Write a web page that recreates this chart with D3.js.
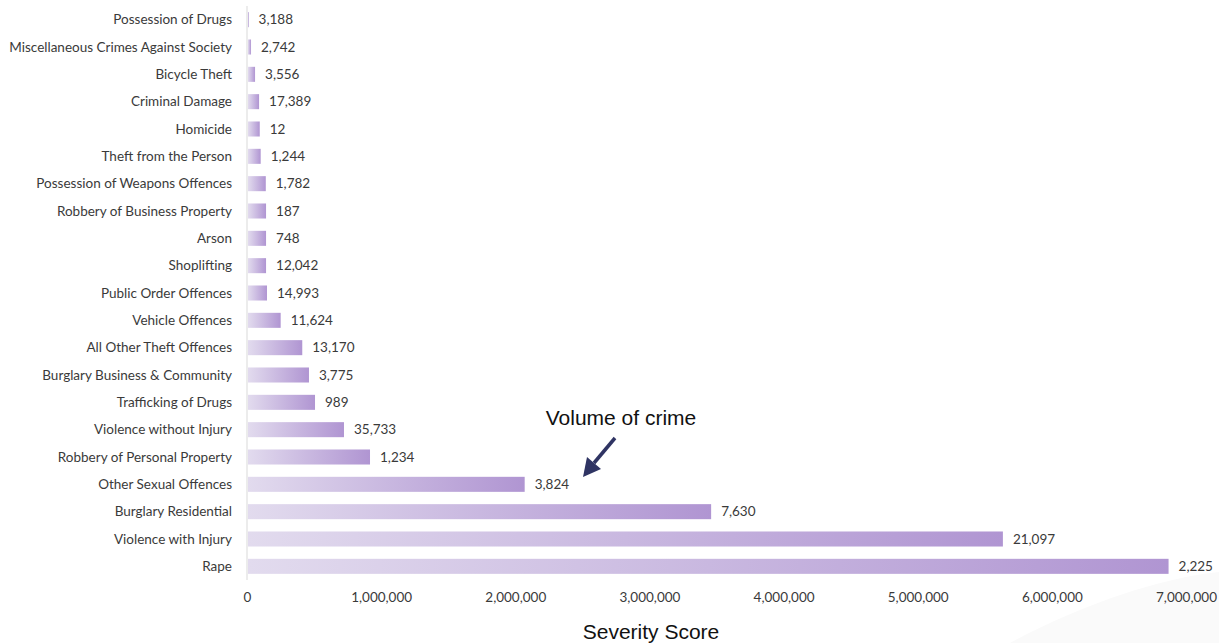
<!DOCTYPE html>
<html>
<head>
<meta charset="utf-8">
<script src="https://cdn.jsdelivr.net/npm/d3@7"></script>
<style>
  body { margin: 0; background: #fff; }
  .cat { font-family: Lato, sans-serif; font-size: 13.5px; fill: #3a3a3a; }
  .val { font-family: Lato, sans-serif; font-size: 13.5px; fill: #3a3a3a; }
  .tick text { font-family: Lato, sans-serif; font-size: 13.5px; fill: #3a3a3a; }
  .note { font-family: "Liberation Sans", Arial, sans-serif; fill: #111; }
</style>
</head>
<body>
<div class="container"></div>
<script>
var categories = [
  "Possession of Drugs", "Miscellaneous Crimes Against Society", "Bicycle Theft",
  "Criminal Damage", "Homicide", "Theft from the Person", "Possession of Weapons Offences",
  "Robbery of Business Property", "Arson", "Shoplifting", "Public Order Offences",
  "Vehicle Offences", "All Other Theft Offences", "Burglary Business & Community",
  "Trafficking of Drugs", "Violence without Injury", "Robbery of Personal Property",
  "Other Sexual Offences", "Burglary Residential", "Violence with Injury", "Rape"
];
// severity score (bar length)
var severity = [
  12000, 30000, 60000, 90000, 95000, 102000, 140000,
  142000, 142000, 142000, 149000, 251000, 412000, 462000,
  507000, 723000, 917000, 2070000, 3460000, 5635000, 6870000
];
// volume of crime (label at bar end)
var volume = [
  3188, 2742, 3556, 17389, 12, 1244, 1782,
  187, 748, 12042, 14993, 11624, 13170, 3775,
  989, 35733, 1234, 3824, 7630, 21097, 2225
];
var xTicks = [0, 1000000, 2000000, 3000000, 4000000, 5000000, 6000000, 7000000];

var width = 1219,
  height = 643;

var svg = d3.select(".container").append("svg")
  .attr("width", width)
  .attr("height", height);

var defs = svg.append("defs");

// light-to-dark gradient, stretched over each bar
var grad = defs.append("linearGradient")
  .attr("id", "barGrad")
  .attr("x1", "0").attr("x2", "1").attr("y1", "0").attr("y2", "0");
grad.append("stop").attr("offset", "0%").attr("stop-color", "#e2dbee");
grad.append("stop").attr("offset", "100%").attr("stop-color", "#b095d2");

// faint background swoosh, bottom right
svg.append("path")
  .attr("d", "M1010,643 C1080,605 1160,578 1219,572 L1219,643 Z")
  .attr("fill", "#fafafa");

var x = d3.scaleLinear()
  .domain([0, 7000000])
  .range([247, 1186]);

var y = d3.scaleBand()
  .domain(categories)
  .range([6, 580])
  .paddingInner(0.45)
  .paddingOuter(0.225);

// vertical axis line
svg.append("line")
  .attr("x1", x(0)).attr("x2", x(0))
  .attr("y1", 6).attr("y2", 580)
  .attr("stroke", "#d9d9d9")
  .attr("stroke-width", 1);

// bars
svg.append("g").selectAll("rect")
  .data(categories)
  .join("rect")
  .attr("x", x(0) + 1)
  .attr("y", d => y(d))
  .attr("width", (d, i) => Math.max(1, x(severity[i]) - x(0) - 1))
  .attr("height", y.bandwidth())
  .attr("fill", "url(#barGrad)");

// category labels
svg.append("g").selectAll("text")
  .data(categories)
  .join("text")
  .attr("class", "cat")
  .attr("x", 232)
  .attr("y", d => y(d) + y.bandwidth() / 2)
  .attr("dy", "0.35em")
  .attr("text-anchor", "end")
  .text(d => d);

// volume labels
svg.append("g").selectAll("text")
  .data(categories)
  .join("text")
  .attr("class", "val")
  .attr("x", (d, i) => x(severity[i]) + 10)
  .attr("y", d => y(d) + y.bandwidth() / 2)
  .attr("dy", "0.35em")
  .text((d, i) => d3.format(",")(volume[i]));

// x axis, labels only
var xAxis = svg.append("g")
  .attr("transform", "translate(0,592)")
  .call(d3.axisBottom(x).tickValues(xTicks).tickSize(0).tickPadding(0).tickFormat(d3.format(",")));
xAxis.select(".domain").remove();
xAxis.selectAll(".tick text").attr("dy", "0.71em");

svg.append("text")
  .attr("class", "note")
  .attr("x", 651)
  .attr("y", 639)
  .attr("text-anchor", "middle")
  .style("font-size", "21px")
  .text("Severity Score");

// annotation
svg.append("text")
  .attr("class", "note")
  .attr("x", 621)
  .attr("y", 425)
  .attr("text-anchor", "middle")
  .style("font-size", "21px")
  .text("Volume of crime");

// arrow shaft and head
svg.append("line")
  .attr("x1", 615).attr("y1", 438)
  .attr("x2", 594).attr("y2", 463)
  .attr("stroke", "#2f3463")
  .attr("stroke-width", 3.5);

svg.append("path")
  .attr("d", "M583,477 L587,457 L601,469 Z")
  .attr("fill", "#2f3463");
</script>
</body>
</html>
